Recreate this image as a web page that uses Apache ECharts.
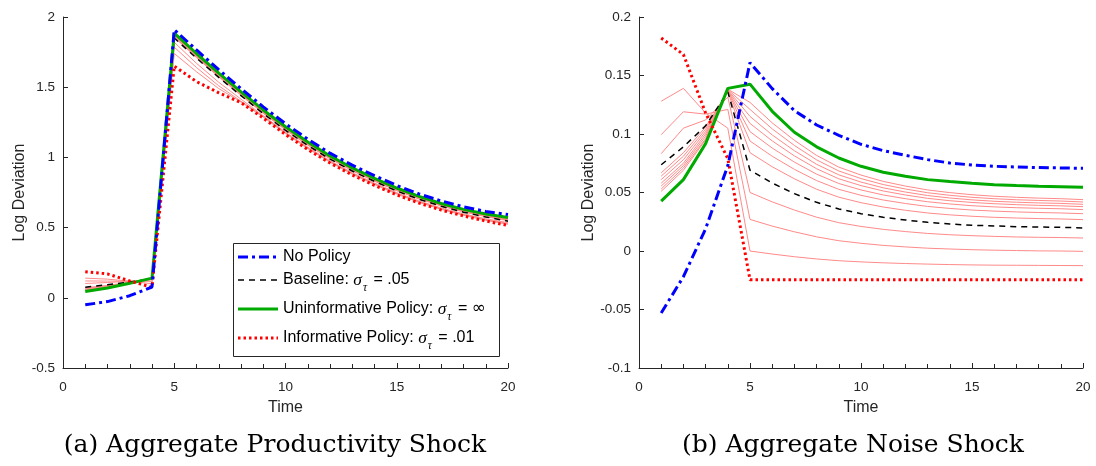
<!DOCTYPE html>
<html>
<head>
<meta charset="utf-8">
<script src="https://cdn.jsdelivr.net/npm/echarts@6/dist/echarts.min.js"></script>
<style>
html,body{margin:0;padding:0;background:#fff;}
#chart{width:1096px;height:466px;}
</style>
</head>
<body>
<div id="chart"></div>
<script>
// ---- data ----
const time = [1,2,3,4,5,6,7,8,9,10,11,12,13,14,15,16,17,18,19,20];

// (a) Aggregate Productivity Shock
const leftNoPolicy = [-0.05,-0.027,0.015,0.077,1.91,1.765,1.625,1.49,1.36,1.24,1.13,1.03,0.945,0.87,0.8,0.74,0.69,0.648,0.615,0.593];
const leftBaseline = [0.075,0.093,0.112,0.137,1.85,1.707,1.57,1.44,1.312,1.193,1.085,0.988,0.903,0.829,0.761,0.702,0.652,0.61,0.576,0.546];
const leftUninformative = [0.045,0.07,0.103,0.14,1.885,1.74,1.6,1.467,1.338,1.218,1.11,1.01,0.925,0.85,0.782,0.722,0.672,0.63,0.597,0.572];
const leftInformative = [0.185,0.17,0.12,0.075,1.65,1.54,1.46,1.39,1.28,1.163,1.056,0.96,0.875,0.8,0.733,0.675,0.625,0.583,0.547,0.515];
const leftThinA = [0.051,0.075,0.105,0.1385,1.881,1.736,1.596,1.464,1.335,1.215,1.107,1.007,0.922,0.847,0.779,0.719,0.669,0.627,0.594,0.569];
const leftThinB = [0.054,0.077,0.106,0.138,1.877,1.732,1.592,1.46,1.331,1.211,1.103,1.004,0.919,0.844,0.776,0.716,0.666,0.624,0.591,0.566];
const leftThinC = [0.057,0.079,0.107,0.1375,1.872,1.727,1.588,1.456,1.327,1.207,1.099,1.001,0.916,0.841,0.773,0.713,0.663,0.621,0.588,0.562];
const leftThinD = [0.06,0.081,0.108,0.137,1.868,1.723,1.584,1.452,1.323,1.204,1.096,0.998,0.913,0.838,0.77,0.71,0.66,0.618,0.585,0.558];
const leftThinE = [0.064,0.083,0.109,0.136,1.863,1.719,1.58,1.448,1.32,1.201,1.093,0.995,0.91,0.835,0.767,0.708,0.658,0.616,0.582,0.555];
const leftThinF = [0.068,0.085,0.11,0.135,1.859,1.715,1.577,1.445,1.317,1.198,1.09,0.992,0.907,0.832,0.765,0.706,0.656,0.614,0.58,0.552];
const leftThinG = [0.072,0.088,0.111,0.134,1.855,1.711,1.573,1.442,1.314,1.195,1.087,0.99,0.905,0.83,0.763,0.704,0.654,0.612,0.578,0.549];
const leftThinH = [0.102,0.109,0.118,0.128,1.82,1.67,1.535,1.415,1.297,1.18,1.073,0.976,0.891,0.817,0.749,0.69,0.64,0.598,0.563,0.535];
const leftThinI = [0.12,0.119,0.118,0.117,1.785,1.64,1.51,1.4,1.292,1.175,1.068,0.971,0.886,0.812,0.744,0.685,0.635,0.593,0.558,0.53];
const leftThinJ = [0.14,0.133,0.118,0.1,1.74,1.61,1.49,1.395,1.287,1.17,1.063,0.966,0.881,0.807,0.739,0.68,0.63,0.588,0.552,0.524];

// (b) Aggregate Noise Shock
const rightNoPolicy = [-0.053,-0.022,0.019,0.073,0.161,0.1388,0.12,0.1077,0.0989,0.0912,0.0858,0.0818,0.0781,0.0752,0.0735,0.0724,0.0718,0.0713,0.071,0.0707];
const rightBaseline = [0.0737,0.089,0.107,0.136,0.069,0.0581,0.049,0.0416,0.0359,0.0319,0.0288,0.0265,0.0245,0.0231,0.022,0.0214,0.0208,0.0205,0.0203,0.0197];
const rightUninformative = [0.0426,0.061,0.0918,0.139,0.1426,0.1194,0.1015,0.089,0.0795,0.0724,0.0673,0.0639,0.061,0.0593,0.0579,0.0567,0.0559,0.0553,0.055,0.0545];
const rightInformative = [0.182,0.168,0.118,0.079,-0.0245,-0.0245,-0.0245,-0.0245,-0.0245,-0.0245,-0.0245,-0.0245,-0.0245,-0.0245,-0.0245,-0.0245,-0.0245,-0.0245,-0.0245,-0.0245];
const rightThinA = [0.051,0.069,0.095,0.1383,0.127,0.1095,0.0946,0.0817,0.0717,0.0649,0.0595,0.0555,0.0522,0.0499,0.0481,0.0468,0.0459,0.0452,0.0447,0.0439];
const rightThinB = [0.053,0.071,0.096,0.138,0.121,0.1044,0.0902,0.0779,0.0684,0.0619,0.0568,0.053,0.0498,0.0476,0.0459,0.0447,0.0438,0.0432,0.0427,0.0419];
const rightThinC = [0.0555,0.073,0.098,0.1378,0.115,0.0992,0.0857,0.0741,0.0651,0.0589,0.054,0.0504,0.0474,0.0453,0.0437,0.0425,0.0417,0.0411,0.0407,0.0399];
const rightThinD = [0.058,0.075,0.1,0.1375,0.109,0.0941,0.0813,0.0703,0.0617,0.0559,0.0513,0.0479,0.045,0.043,0.0415,0.0404,0.0396,0.039,0.0386,0.0379];
const rightThinE = [0.061,0.078,0.102,0.1372,0.102,0.088,0.076,0.0657,0.0577,0.0522,0.0479,0.0447,0.0421,0.0402,0.0387,0.0377,0.037,0.0365,0.0361,0.0354];
const rightThinF = [0.064,0.081,0.104,0.137,0.094,0.081,0.0698,0.0602,0.0527,0.0476,0.0436,0.0406,0.0381,0.0364,0.035,0.0341,0.0334,0.0329,0.0325,0.0319];
const rightThinG = [0.0668,0.084,0.106,0.136,0.084,0.072,0.0617,0.0528,0.046,0.0413,0.0376,0.0348,0.0325,0.0309,0.0297,0.0288,0.0282,0.0277,0.0274,0.0268];
const rightThinH = [0.0832,0.105,0.112,0.1315,0.05,0.042,0.035,0.0289,0.0242,0.021,0.0185,0.0166,0.015,0.0139,0.0131,0.0125,0.012,0.0117,0.0115,0.0111];
const rightThinI = [0.0994,0.119,0.117,0.121,0.027,0.0213,0.0164,0.0121,0.0088,0.0066,0.0048,0.0035,0.0024,0.0017,0.0011,0.0007,0.0004,0.0001,0.0,-0.0003];
const rightThinJ = [0.128,0.139,0.118,0.105,0.0,-0.0026,-0.0049,-0.0068,-0.0083,-0.0093,-0.0101,-0.0107,-0.0112,-0.0116,-0.0119,-0.0121,-0.0122,-0.0123,-0.0124,-0.0125];

const xTicks = {min: 0, max: 20, interval: 5};
const leftYTicks = {min: -0.5, max: 2, interval: 0.5};
const rightYTicks = {min: -0.1, max: 0.2, interval: 0.05};

const captions = ['(a) Aggregate Productivity Shock', '(b) Aggregate Noise Shock'];
const legendNames = ['No Policy', 'Baseline', 'Uninformative Policy', 'Informative Policy'];
const legendValues = ['', '.05', '∞', '.01'];

// ---- build ----
const pairs = arr => arr.map((v, i) => [time[i], v]);
const AX = '#262626';
const SANS = '"Liberation Sans", Arial, sans-serif';

const STYLES = {
  'No Policy': {color: '#0000ff', width: 3, type: [10, 4, 3, 4]},
  'Baseline': {color: '#000000', width: 1.5, type: [6, 5]},
  'Uninformative Policy': {color: '#00aa00', width: 3, type: 'solid'},
  'Informative Policy': {color: '#ff0000', width: 3, type: [2.5, 3]}
};
const Z = {'Baseline': 3, 'Uninformative Policy': 4, 'Informative Policy': 5, 'No Policy': 6};

function thin(name, arr, idx) {
  return {name, type: 'line', data: pairs(arr), xAxisIndex: idx, yAxisIndex: idx,
    symbol: 'none', silent: true, lineStyle: {color: '#ff8a8a', width: 1}, z: 2};
}
function mainSeries(idx, byName) {
  return ['Baseline', 'Uninformative Policy', 'Informative Policy', 'No Policy'].map(n => ({
    name: n, type: 'line', data: pairs(byName[n]), xAxisIndex: idx, yAxisIndex: idx, symbol: 'none', silent: true,
    lineStyle: {color: STYLES[n].color, width: STYLES[n].width, type: STYLES[n].type}, z: Z[n]
  }));
}

function xAxis(gridIndex) {
  return {type: 'value', gridIndex, min: xTicks.min, max: xTicks.max, interval: xTicks.interval,
    name: 'Time', nameLocation: 'middle', nameGap: 32,
    nameTextStyle: {fontFamily: SANS, fontSize: 16, color: AX},
    axisLine: {onZero: false, lineStyle: {color: AX, width: 1}},
    axisTick: {inside: true, length: 5, lineStyle: {color: AX}},
    minorTick: {show: true, splitNumber: 5, length: 4, lineStyle: {color: AX}},
    axisLabel: {fontFamily: SANS, fontSize: 13.5, color: AX, margin: 12},
    splitLine: {show: false}};
}
function yAxis(gridIndex, t, gap) {
  return {type: 'value', gridIndex, min: t.min, max: t.max, interval: t.interval,
    name: 'Log Deviation', nameLocation: 'middle', nameGap: gap,
    nameTextStyle: {fontFamily: SANS, fontSize: 16, color: AX},
    axisLine: {show: true, onZero: false, lineStyle: {color: AX, width: 1}},
    axisTick: {show: true, inside: true, length: 5, lineStyle: {color: AX}},
    axisLabel: {fontFamily: SANS, fontSize: 13.5, color: AX, margin: 8},
    splitLine: {show: false}};
}

const series = [];
[leftThinA, leftThinB, leftThinC, leftThinD, leftThinE, leftThinF, leftThinG, leftThinH, leftThinI, leftThinJ]
  .forEach((a, i) => series.push(thin('a' + i, a, 0)));
[rightThinA, rightThinB, rightThinC, rightThinD, rightThinE, rightThinF, rightThinG, rightThinH, rightThinI, rightThinJ]
  .forEach((a, i) => series.push(thin('b' + i, a, 1)));
series.push(...mainSeries(0, {'No Policy': leftNoPolicy, 'Baseline': leftBaseline,
  'Uninformative Policy': leftUninformative, 'Informative Policy': leftInformative}));
series.push(...mainSeries(1, {'No Policy': rightNoPolicy, 'Baseline': rightBaseline,
  'Uninformative Policy': rightUninformative, 'Informative Policy': rightInformative}));

// ---- legend (drawn as graphic for exact layout) ----
const legendBox = {x: 233.5, y: 243.5, w: 266, h: 113};
const legendRowsY = [257, 280, 309, 338];
const rich = {
  t: {fontFamily: SANS, fontSize: 16, lineHeight: 18, fill: '#000'},
  i: {fontFamily: '"Liberation Serif", serif', fontStyle: 'italic', fontSize: 17.5, lineHeight: 18, fill: '#000'},
  s: {fontFamily: '"Liberation Serif", serif', fontStyle: 'italic', fontSize: 11.5, lineHeight: 12, padding: [16, 2, 0, 1], fill: '#000'},
  inf: {fontFamily: '"DejaVu Sans", sans-serif', fontSize: 17, lineHeight: 18, fill: '#000'}
};
const legendGraphic = [
  {type: 'rect', z: 100, shape: {x: legendBox.x, y: legendBox.y, width: legendBox.w, height: legendBox.h},
    style: {fill: '#fff', stroke: AX, lineWidth: 1}}
];
legendNames.forEach((n, k) => {
  const y = legendRowsY[k];
  const st = STYLES[n];
  legendGraphic.push({type: 'line', z: 101, shape: {x1: 238, y1: y, x2: 278, y2: y},
    style: {stroke: st.color, lineWidth: st.width, lineDash: Array.isArray(st.type) ? st.type : null}});
  const val = legendValues[k] === '∞' ? '{t| = }{inf|∞}' : '{t| = ' + legendValues[k] + '}';
  const txt = k === 0 ? '{t|' + n + '}' : '{t|' + n + ': }{i|σ}{s|τ}' + val;
  legendGraphic.push({type: 'text', z: 101, x: 283, y: y,
    style: {text: txt, rich, verticalAlign: 'middle', align: 'left', fill: '#000'}});
});

const option = {
  animation: false,
  backgroundColor: '#fff',
  grid: [
    {left: 63, right: 1096 - 508, top: 17, bottom: 466 - 368},
    {left: 639, right: 1096 - 1083, top: 17, bottom: 466 - 368}
  ],
  xAxis: [xAxis(0), xAxis(1)],
  yAxis: [yAxis(0, leftYTicks, 33), yAxis(1, rightYTicks, 40)],
  graphic: [
    ...legendGraphic,
    {type: 'text', x: 275, y: 458, style: {text: captions[0], font: '25px "DejaVu Serif", serif', fill: '#000', align: 'center', verticalAlign: 'bottom'}},
    {type: 'text', x: 853, y: 458, style: {text: captions[1], font: '25px "DejaVu Serif", serif', fill: '#000', align: 'center', verticalAlign: 'bottom'}}
  ],
  series
};

const chart = echarts.init(document.getElementById('chart'), null, {renderer: 'canvas'});
chart.setOption(option);
</script>
</body>
</html>
